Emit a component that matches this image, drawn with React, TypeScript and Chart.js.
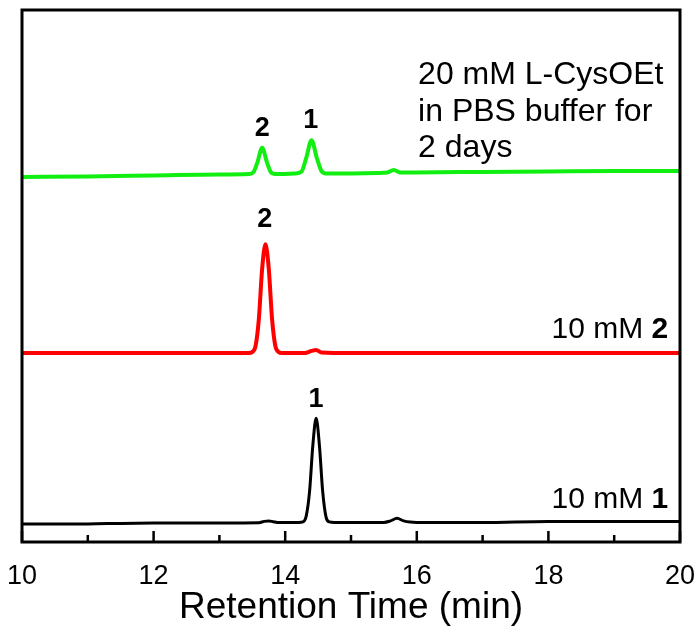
import React, { useEffect, useRef } from "react";
import { Chart, registerables } from "chart.js";

Chart.register(...registerables);

const FONT = "'Liberation Sans', Arial, sans-serif";

// Retention time (min) / detector signal (a.u., traces stacked with offsets)
const blackX = [10, 11, 11.5, 12, 13, 13.6, 13.68, 13.75, 13.82, 13.9, 14.2, 14.27, 14.32, 14.37, 14.42, 14.47, 14.52, 14.57, 14.62, 14.67, 14.75, 15.5, 15.6, 15.7, 15.8, 15.9, 16, 17, 18, 19, 20];
const blackY = [18, 18, 18.5, 18.8, 19, 19.2, 20.5, 21, 20.2, 19.3, 19.5, 20, 26, 50, 96, 123, 96, 50, 25, 20, 19.5, 19.5, 21, 23.5, 21, 19.8, 19.5, 19.5, 20.5, 20.5, 20.5];

const redX = [10, 11, 12, 13, 13.45, 13.5, 13.55, 13.6, 13.65, 13.7, 13.75, 13.8, 13.85, 13.9, 13.95, 14.3, 14.4, 14.47, 14.55, 15, 16, 17, 18, 19, 20];
const redY = [188, 188, 188, 188, 188, 189, 195, 222, 272, 296, 272, 222, 195, 189, 188, 188, 190, 191, 188.5, 188, 188, 188, 188, 188, 188];

const greenX = [10, 11, 12, 13, 13.45, 13.52, 13.58, 13.65, 13.72, 13.78, 13.85, 14.15, 14.25, 14.32, 14.4, 14.48, 14.55, 14.62, 15.4, 15.55, 15.65, 15.75, 16, 17, 18, 19, 20];
const greenY = [363, 363.5, 364.5, 365.5, 366, 368, 378, 392, 378, 368, 366, 366.5, 368.5, 382, 399.5, 382, 369, 366.5, 367, 367.5, 370, 367.5, 367.5, 368, 368.5, 369, 369];

const xMin = 10;
const xMax = 20;
const yMin = 0;
const yMax = 529;
const majorTicks = [10, 12, 14, 16, 18, 20];
const minorTicks = [11, 13, 15, 17, 19];

// peak labels: [x, y, text]
const peakLabels: [number, number, string][] = [
  [13.65, 404, "2"],
  [14.39, 412, "1"],
  [13.69, 313, "2"],
  [14.47, 134, "1"],
];
// sample labels: [right x, y, normal part, bold part]
const sampleLabels: [number, number, string, string][] = [
  [19.82, 203, "10 mM ", "2"],
  [19.82, 34, "10 mM ", "1"],
];
const noteLines = ["20 mM L-CysOEt", "in PBS buffer for", "2 days"];
const noteX = 16.02;
const noteY = [455, 419, 383];

const toPts = (xs: number[], ys: number[]) => xs.map((x, i) => ({ x, y: ys[i] }));

const framePlugin = {
  id: "frame",
  afterDatasetsDraw(chart: any) {
    const { ctx, chartArea } = chart;
    const xs = chart.scales.x;
    const ys = chart.scales.y;
    ctx.save();
    ctx.strokeStyle = "#000";
    ctx.lineWidth = 3;
    ctx.strokeRect(chartArea.left, chartArea.top, chartArea.right - chartArea.left, chartArea.bottom - chartArea.top);
    ctx.lineWidth = 2.5;
    ctx.beginPath();
    majorTicks.forEach((t) => {
      const px = xs.getPixelForValue(t);
      ctx.moveTo(px, chartArea.bottom);
      ctx.lineTo(px, chartArea.bottom - 11);
    });
    minorTicks.forEach((t) => {
      const px = xs.getPixelForValue(t);
      ctx.moveTo(px, chartArea.bottom);
      ctx.lineTo(px, chartArea.bottom - 7);
    });
    ctx.stroke();

    ctx.fillStyle = "#000";
    ctx.textBaseline = "alphabetic";
    ctx.textAlign = "center";
    ctx.font = `bold 27px ${FONT}`;
    peakLabels.forEach(([x, y, t]) => {
      ctx.fillText(t, xs.getPixelForValue(x), ys.getPixelForValue(y));
    });

    ctx.textAlign = "left";
    sampleLabels.forEach(([x, y, t, b]) => {
      ctx.font = `bold 30px ${FONT}`;
      const bw = ctx.measureText(b).width;
      ctx.font = `30px ${FONT}`;
      const tw = ctx.measureText(t).width;
      const right = xs.getPixelForValue(x);
      const py = ys.getPixelForValue(y);
      ctx.fillText(t, right - bw - tw, py);
      ctx.font = `bold 30px ${FONT}`;
      ctx.fillText(b, right - bw, py);
    });

    ctx.font = `32px ${FONT}`;
    noteLines.forEach((t, i) => {
      ctx.fillText(t, xs.getPixelForValue(noteX), ys.getPixelForValue(noteY[i]));
    });
    ctx.restore();
  },
};

export default function App() {
  const ref = useRef<HTMLCanvasElement>(null);
  useEffect(() => {
    document.body.style.margin = "0";
    const ds = (xs: number[], ys: number[], color: string, w: number) => ({
      data: toPts(xs, ys),
      borderColor: color,
      borderWidth: w,
      pointRadius: 0,
      fill: false,
      cubicInterpolationMode: "monotone" as const,
    });
    const chart = new Chart(ref.current!, {
      type: "line",
      data: {
        datasets: [
          ds(blackX, blackY, "#000000", 3),
          ds(redX, redY, "#ff0000", 4),
          ds(greenX, greenY, "#11ee11", 4),
        ],
      },
      options: {
        responsive: false,
        animation: false,
        layout: { padding: { left: 22, right: 15, top: 10, bottom: 15 } },
        plugins: { legend: { display: false }, tooltip: { enabled: false } },
        scales: {
          x: {
            type: "linear",
            min: xMin,
            max: xMax,
            border: { display: false },
            grid: { display: false, drawTicks: false },
            afterFit: (s: any) => {
              s.paddingLeft = 0;
              s.paddingRight = 0;
              s.height = 84;
            },
            ticks: {
              stepSize: 1,
              padding: 21,
              color: "#000",
              font: { family: FONT, size: 27, lineHeight: 1 },
              maxRotation: 0,
              autoSkip: false,
              callback: (v: any) => (majorTicks.includes(Number(v)) ? String(v) : ""),
            },
            title: {
              display: true,
              text: "Retention Time (min)",
              color: "#000",
              font: { family: FONT, size: 37, lineHeight: 1 },
              padding: { top: 1, bottom: 0 },
            },
          },
          y: {
            type: "linear",
            min: yMin,
            max: yMax,
            display: false,
          },
        },
      },
      plugins: [framePlugin],
    });
    return () => chart.destroy();
  }, []);
  return (
    <div style={{ width: 695, height: 641 }}>
      <canvas ref={ref} width={695} height={641} style={{ display: "block" }} />
    </div>
  );
}
